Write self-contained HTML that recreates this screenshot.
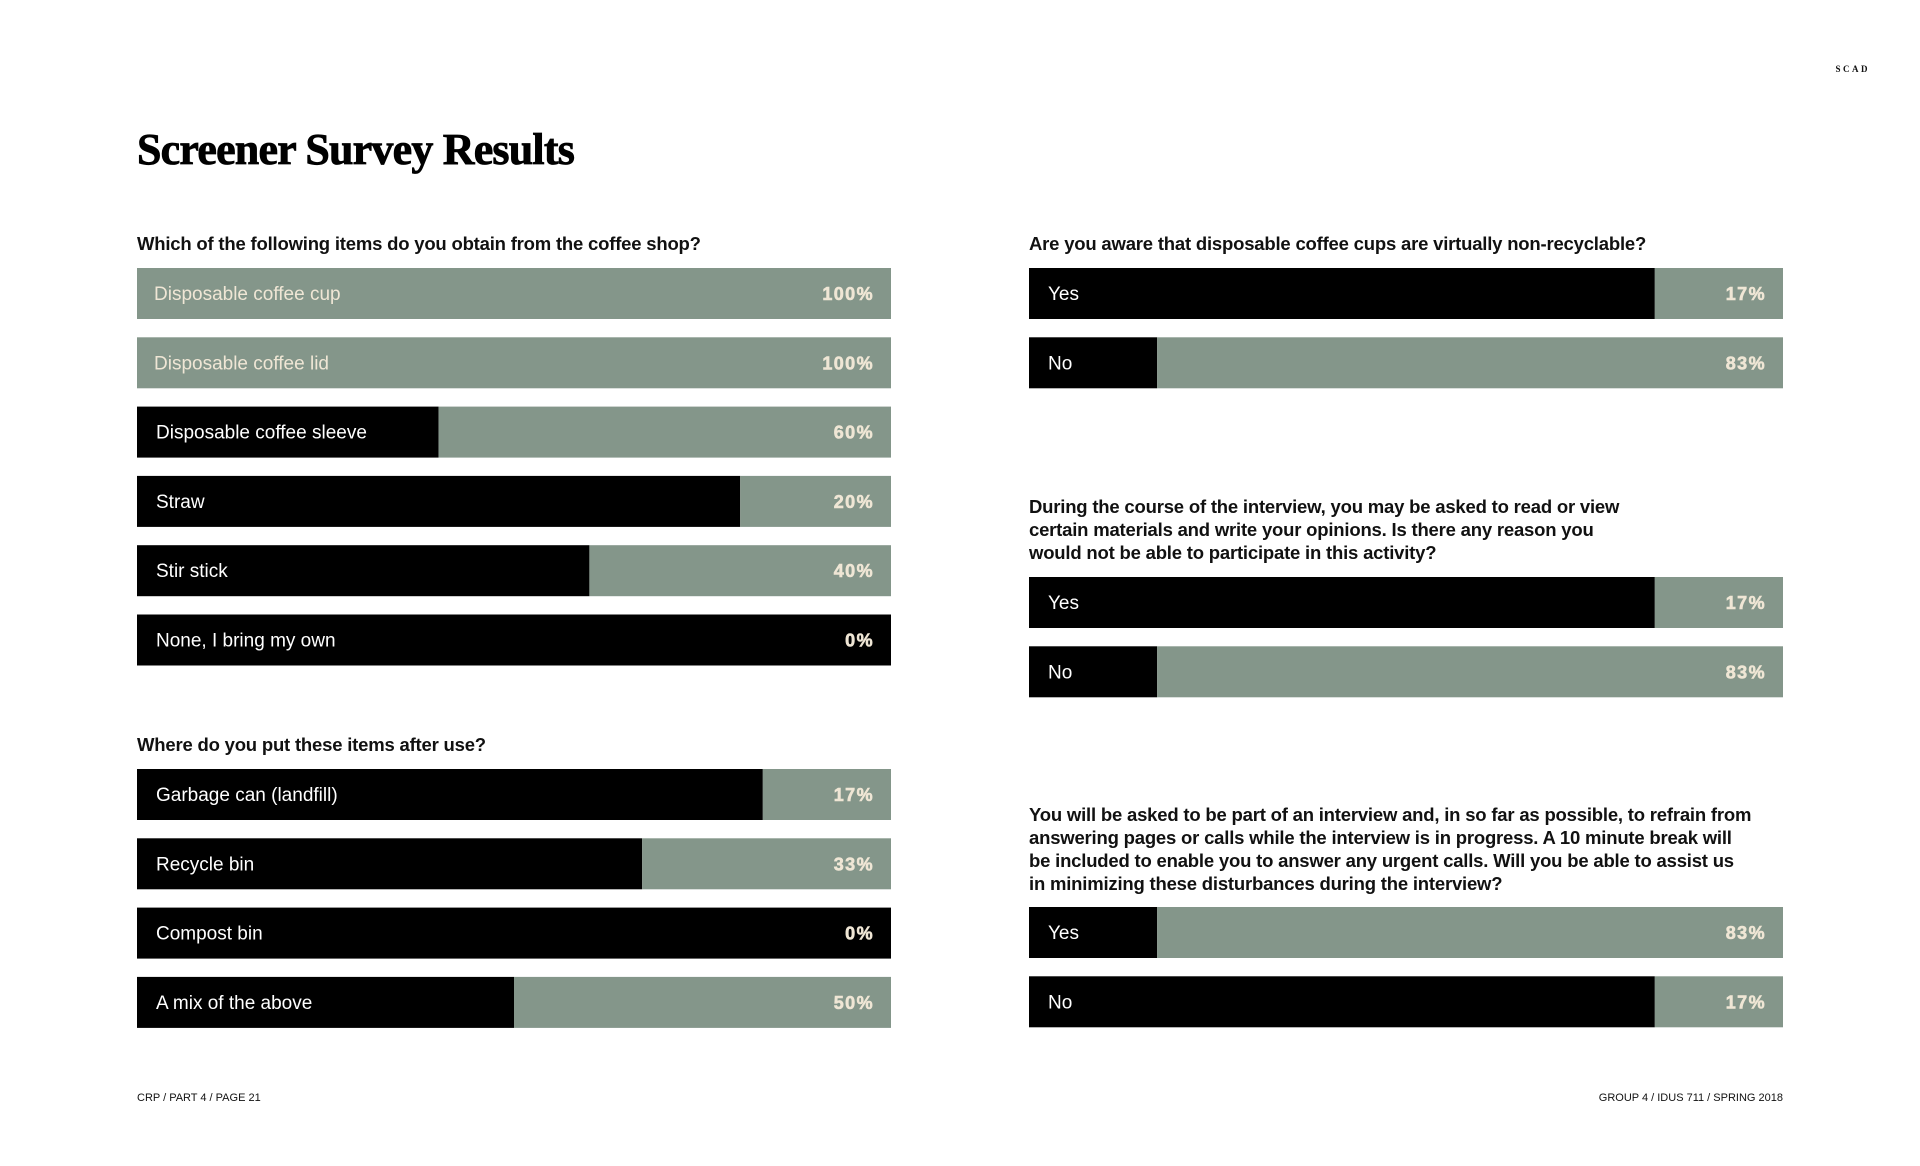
<!DOCTYPE html>
<html><head><meta charset="utf-8"><style>
html,body{margin:0;padding:0;background:#fff;width:1920px;height:1166px;overflow:hidden}
svg{display:block}
.q{font-family:"Liberation Sans",sans-serif;font-weight:bold;font-size:18.5px;fill:#111;letter-spacing:-0.2px}
.lbl{font-family:"Liberation Sans",sans-serif;font-size:19px}
.val{font-family:"Liberation Sans",sans-serif;font-weight:900;font-size:18px;letter-spacing:1.4px;fill:#efe6d5;stroke:#efe6d5;stroke-width:0.6}
.ft{font-family:"Liberation Sans",sans-serif;font-size:11px;fill:#111}
</style></head><body>
<svg id="chart" width="1920" height="1166" viewBox="0 0 1920 1166" xmlns="http://www.w3.org/2000/svg">
<text x="1870" y="72" text-anchor="end" font-family="Liberation Serif,serif" font-weight="bold" font-size="9" letter-spacing="2.5" fill="#111">SCAD</text>
<text x="137" y="164" font-family="Liberation Serif,serif" font-weight="bold" font-size="44" letter-spacing="-0.8" fill="#000" stroke="#000" stroke-width="0.8">Screener Survey Results</text>
<text class="ft" x="137" y="1101">CRP / PART 4 / PAGE 21</text>
<text class="ft" x="1783" y="1101" text-anchor="end">GROUP 4 / IDUS 711 / SPRING 2018</text>
<g id="bars"></g>
</svg>
<script>
const q1Labels = ["Disposable coffee cup","Disposable coffee lid","Disposable coffee sleeve","Straw","Stir stick","None, I bring my own"];
const q1Values = [100,100,60,20,40,0];
const q2Labels = ["Garbage can (landfill)","Recycle bin","Compost bin","A mix of the above"];
const q2Values = [17,33,0,50];
const q3Labels = ["Yes","No"];
const q3Values = [17,83];
const q4Labels = ["Yes","No"];
const q4Values = [17,83];
const q5Labels = ["Yes","No"];
const q5Values = [83,17];

const NS="http://www.w3.org/2000/svg";
const g=document.getElementById('bars');
const GREEN="#84968a";
function mk(tag,attrs){const e=document.createElementNS(NS,tag);for(const k in attrs)e.setAttribute(k,attrs[k]);return e;}
function text(x,y,cls,str,lines){
  const t=mk('text',{x:x,y:y,class:cls});
  
  
  lines.forEach((l,i)=>{const s=mk('tspan',{x:x,dy:i?23:0});s.textContent=l;t.appendChild(s);});
  g.appendChild(t);
}
function group(x0,w,top0,labels,values,name){
  const H=51,step=69.3;
  const xs=v=>w*v/100;
  labels.forEach((lab,i)=>{
    const y=top0+i*step;
    const v=values[i];
    const gw=xs(v);
    const bk=mk('rect',{x:x0,y:y,width:w-gw,height:H,fill:'#000'});
    
    
    g.appendChild(bk);
    const gr=mk('rect',{x:x0+w-gw,y:y,width:gw,height:H,fill:GREEN});
    
    
    g.appendChild(gr);
    const onGreen=(w-gw)<100;
    const l=mk('text',{x:x0+(onGreen?17:19),y:y+32,class:'lbl',fill:onGreen?'#efe6d5':'#fff'});
    
    
    l.textContent=lab;g.appendChild(l);
    const vt=mk('text',{x:x0+w-17,y:y+32,class:'val','text-anchor':'end'});
    
    
    vt.textContent=v+'%';g.appendChild(vt);
  });
}
const LX=137,RX=1029,W=754;
text(LX,250,'q',null,["Which of the following items do you obtain from the coffee shop?"]);
group(LX,W,268,q1Labels,q1Values,'obtain-items');
text(LX,751,'q',null,["Where do you put these items after use?"]);
group(LX,W,769,q2Labels,q2Values,'disposal');
text(RX,250,'q',null,["Are you aware that disposable coffee cups are virtually non-recyclable?"]);
group(RX,W,268,q3Labels,q3Values,'aware-nonrecyclable');
text(RX,513,'q',null,["During the course of the interview, you may be asked to read or view","certain materials and write your opinions. Is there any reason you","would not be able to participate in this activity?"]);
group(RX,W,577,q4Labels,q4Values,'participate-activity');
text(RX,821,'q',null,["You will be asked to be part of an interview and, in so far as possible, to refrain from","answering pages or calls while the interview is in progress. A 10 minute break will","be included to enable you to answer any urgent calls. Will you be able to assist us","in minimizing these disturbances during the interview?"]);
group(RX,W,907,q5Labels,q5Values,'minimize-disturbances');
</script>
</body></html>
